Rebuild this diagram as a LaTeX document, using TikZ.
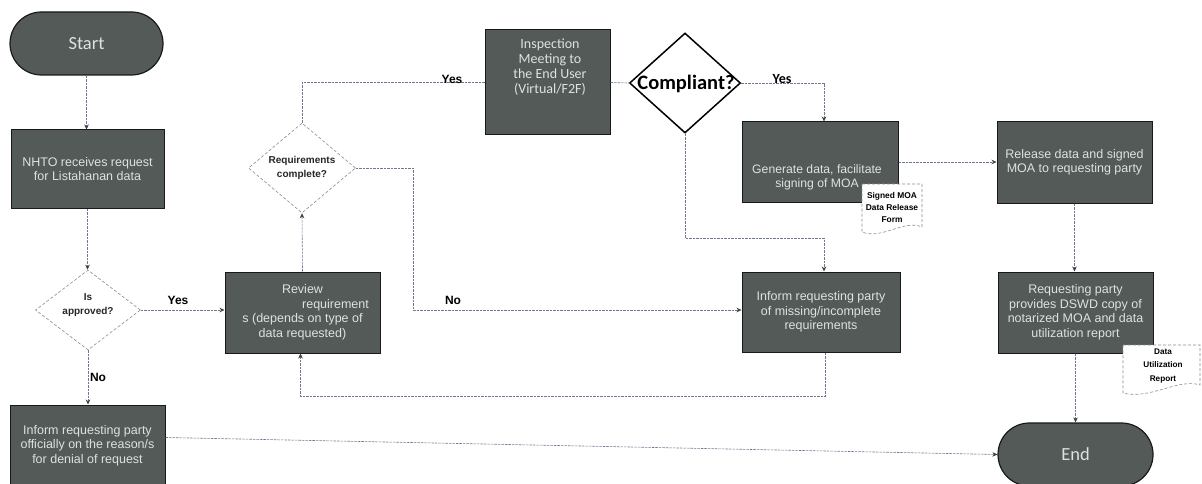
\documentclass[tikz,border=0pt]{standalone}
\usepackage{fontspec}
\setmainfont{Liberation Sans}
\newfontfamily\calib{Carlito}
\usetikzlibrary{shapes.geometric,shapes.misc,arrows.meta}
\definecolor{boxfill}{RGB}{84,90,88}
\definecolor{boxtext}{RGB}{222,226,224}
\definecolor{connc}{RGB}{110,120,145}
\definecolor{dline}{RGB}{140,140,140}
\begin{document}
\begin{tikzpicture}[x=1pt,y=-1pt,
  proc/.style={draw=black!90, line width=1pt, fill=boxfill, text=boxtext, align=center, inner sep=0pt, font=\fontsize{12.5}{14.5}\selectfont},
  term/.style={rounded rectangle, draw=black!90, line width=1.2pt, fill=boxfill, text=boxtext, minimum width=155pt, minimum height=63pt, inner sep=0pt, font=\calib\fontsize{18.5}{20}\selectfont},
  dec/.style={diamond, draw=dline, densely dashed, line width=0.6pt, fill=white, align=center, inner sep=0pt, font=\bfseries\fontsize{10}{14}\selectfont, text=black!85},
  conn/.style={draw=connc, line width=0.6pt, dash pattern=on 2.5pt off 1pt},
  arr/.style={conn, -{Stealth[length=5pt,width=4.5pt,color=black!75]}},
  lab/.style={font=\bfseries\fontsize{12}{14}\selectfont, text=black, inner sep=0pt},
  intext/.style={align=center, text=boxtext, inner sep=0pt},
  doctext/.style={align=center, font=\bfseries\fontsize{8.4}{12}\selectfont, text=black, inner sep=0pt},
  docshape/.style={draw=dline, line width=0.6pt, densely dashed, fill=white}
]
\useasboundingbox (0,0) rectangle (1202,484);

% nodes
\node[term, minimum width=153pt] (start) at (86.5,43.5) {Start};
\node[proc, minimum width=153pt, minimum height=78pt] (nhto) at (87.5,169) {NHTO receives request\\for Listahanan data};
\node[dec, minimum width=105pt, minimum height=80pt, aspect=1.3] (isappr) at (88,310) {};
\node[dec, draw=none, fill=none] (isapprtext) at (88,305) {Is\\approved?};
\node[proc, minimum width=155pt, minimum height=81pt] (deny) at (87.5,445.5) {Inform requesting party\\officially on the reason/s\\for denial of request};
\node[proc, minimum width=155pt, minimum height=81pt] (review) at (302.5,312.5) {Review\hspace{12pt}\\\hspace{66pt}requirement\\s (depends on type of\\data requested)};
\node[dec, minimum width=107pt, minimum height=90pt, aspect=1.2] (reqc) at (302,168) {Requirements\\complete?};
\node[proc, minimum width=125pt, minimum height=105pt] (insp) at (547.5,82.5) {};
\node[intext, font=\calib\fontsize{14}{14.8}\selectfont] (insptext) at (550,67) {Inspection\\Meeting to\\the End User\\(Virtual/F2F)};
\node[diamond, draw=black, line width=1.5pt, fill=white, minimum width=111pt, minimum height=100pt, inner sep=0pt] (comp) at (685,83) {};
\node[font=\calib\bfseries\fontsize{20.5}{22}\selectfont, text=black, inner sep=0pt] (comptext) at (686,84) {Compliant?};
\node[proc, minimum width=156pt, minimum height=80pt] (gen) at (820,162) {};
\node[intext, font=\fontsize{12.2}{14}\selectfont] (gentext) at (817,177) {Generate data, facilitate\\signing of MOA};
\node[proc, minimum width=158pt, minimum height=80pt] (inf) at (821,312) {Inform requesting party\\of missing/incomplete\\requirements};
\node[proc, minimum width=155pt, minimum height=81pt] (rel) at (1074.5,162.5) {Release data and signed\\MOA to requesting party};
\node[proc, minimum width=155pt, minimum height=81pt] (reqp) at (1075.5,312.5) {Requesting party\\provides DSWD copy of\\notarized MOA and data\\utilization report};
\node[term, minimum width=155pt] (end) at (1075.5,454.5) {End};

% documents
\draw[docshape] (862,184) -- (922,184) -- (922,227) .. controls (904,219) and (882,240) .. (862,232) -- cycle;
\node[doctext] (doc1) at (892,207) {Signed MOA\\Data Release\\Form};
\draw[docshape] (1123,345) -- (1200,345) -- (1200,385) .. controls (1178,378) and (1150,400) .. (1123,393) -- cycle;
\node[doctext, font=\bfseries\fontsize{8.2}{13.5}\selectfont] (doc2) at (1163,366) {Data\\Utilization\\Report};

% helper coordinates
\coordinate (c1) at (686,238);
\coordinate (r1) at (413,310);
\coordinate (c2) at (0,396);

% connectors
\draw[arr] (start.south) -- (start.south |- nhto.north);
\draw[arr] (nhto.south) -- (nhto.south |- isappr.north);
\draw[arr] (isappr.south) -- (isappr.south |- deny.north);
\draw[arr] (isappr.east) -- (isappr.east -| review.west);
\draw[arr] (review.north) -- (reqc.south);
\draw[conn] (reqc.north) |- (insp.west);
\draw[conn] (insp.east) -- (comp.west);
\draw[arr] (comp.east) -| ([xshift=4pt]gen.north);
\draw[arr] (gen.east) -- (gen.east -| rel.west);
\draw[arr] (rel.south) -- (rel.south |- reqp.north);
\draw[arr] (reqp.south) -- (reqp.south |- end.north);
\draw[arr] (comp.south) -- (comp.south |- c1) -| ([xshift=3pt]inf.north);
\draw[arr] (reqc.east) -| (r1) -- (r1 -| inf.west);
\draw[arr] ([xshift=4pt]inf.south) -- ([xshift=4pt]inf.south |- c2) -| ([xshift=-2pt]review.south);
\draw[arr] ([yshift=8pt]deny.east) -- (end.west);

% labels
\node[lab] (yes1) at (178,300) {Yes};
\node[lab] (no1) at (98,377) {No};
\node[lab] (yes2) at (452,79) {Yes};
\node[lab] (no2) at (453,300) {No};
\node[lab, font=\calib\bfseries\fontsize{14}{16}\selectfont] (yes3) at (782,79) {Yes};
\end{tikzpicture}
\end{document}
